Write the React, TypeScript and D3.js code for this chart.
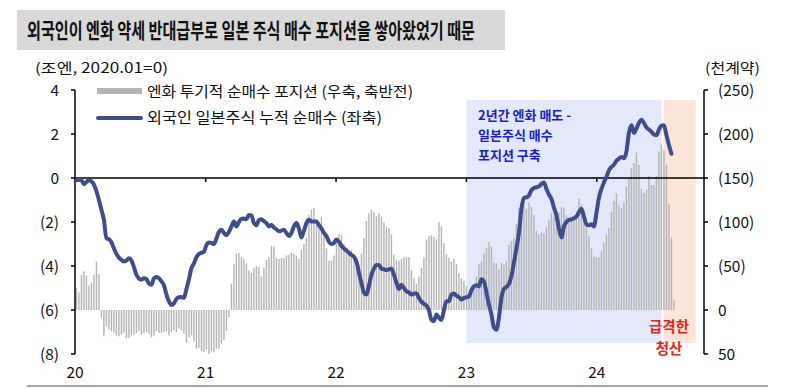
import * as d3 from "d3";

const TITLE = "외국인이 엔화 약세 반대급부로 일본 주식 매수 포지션을 쌓아왔었기 때문";
const LEFT_UNIT = "(조엔, 2020.01=0)";
const RIGHT_UNIT = "(천계약)";
const LEGEND_BAR = "엔화 투기적 순매수 포지션 (우축, 축반전)";
const LEGEND_LINE = "외국인 일본주식 누적 순매수 (좌축)";
const NOTE_BLUE = ["2년간 엔화 매도 -", "일본주식 매수", "포지션 구축"];
const NOTE_RED = ["급격한", "청산"];

const YEARS = ["2020-01-01", "2021-01-01", "2022-01-01", "2023-01-01", "2024-01-01"];
const YEAR_LABELS = ["20", "21", "22", "23", "24"];
const LEFT_TICKS = [4, 2, 0, -2, -4, -6, -8];
const RIGHT_TICKS = [-250, -200, -150, -100, -50, 0, 50];

const BUILD_PERIOD = ["2023-01-01", "2024-07-01"];
const UNWIND_PERIOD = ["2024-07-06", "2024-10-04"];

const FIRST_WEEK = "2020-01-05";

// 엔화 투기적 순매수 (천계약, 주간)
const YEN_POSITION = [
  -25, -20, -40, -44, -39, -28, -31, -40, -55, -41,
  9, 30, 19, 22, 24, 26, 29, 30, 28, 26,
  32, 32, 29, 28, 26, 24, 28, 26, 25, 27,
  31, 29, 24, 26, 26, 25, 24, 29, 25, 23,
  25, 21, 23, 27, 37, 31, 29, 36, 44, 43,
  47, 48, 45, 50, 47, 48, 44, 44, 38, 34,
  24, 8, -30, -52, -64,
  -65, -60, -58, -53, -45, -42, -48, -50, -49, -38,
  -48, -57, -60, -73, -72, -59, -58, -59, -59, -62,
  -63, -65, -64, -62, -58, -68, -75, -82, -108, -114,
  -116, -103, -99, -106, -87, -70, -56, -56, -62, -76,
  -86, -85, -75, -70, -67, -68, -62, -58, -52, -64,
  -82, -101, -110, -114, -111, -107, -110, -106, -100, -95,
  -93, -86, -63, -57, -56, -58, -60,
  -60, -60, -45, -36, -30, -38, -48, -60, -80, -84,
  -85, -83, -80, -100, -95, -76, -63, -59, -55, -58,
  -52, -42, -36, -33, -27, -19, -23, -27, -38, -52,
  -55, -64, -71, -77, -72, -54, -53, -46, -54, -52,
  -55, -74, -78, -82, -98, -116, -122, -124, -115, -122,
  -117, -108, -90, -86, -88, -87, -94, -102,
  -110, -106, -105, -111, -117, -116, -108, -102, -105, -102,
  -106, -127, -120, -102, -96, -84, -70, -61, -60, -60,
  -67, -76, -86, -93, -112, -124, -133, -119, -116, -122,
  -140, -150, -161, -167, -179, -165, -138, -133, -137, -152,
  -142, -142, -152, -180, -188, -182, -165, -120, -82, -12,
];

// 외국인 일본주식 누적 순매수 (조엔, 주간)
const FOREIGN_NET_BUY = [
  -0.1, -0.08, -0.1, -0.28, -0.18, -0.1, -0.15, -0.3, -0.6, -1.0,
  -1.45, -1.9, -2.75, -2.78, -2.92, -3.2, -3.45, -3.62, -3.72, -3.8,
  -3.75, -3.65, -3.75, -4.05, -4.4, -4.57, -4.62, -4.56, -4.6, -4.8,
  -4.85, -4.56, -4.5, -4.56, -4.7, -4.87, -5.3, -5.6, -5.77, -5.7,
  -5.5, -5.42, -5.41, -5.45, -5.05, -4.6, -4.1, -3.88, -3.6, -3.45,
  -3.4, -3.35, -3.05, -2.93, -2.95, -3.0, -2.75, -2.45, -2.35, -2.5,
  -2.6, -2.45, -2.2, -1.98, -2.2, -2.0, -1.85, -1.84, -1.88, -1.68,
  -1.7, -2.05, -2.15, -1.9, -1.88, -1.96, -2.05, -2.2, -2.14, -2.25,
  -2.33, -2.42, -2.39, -2.35, -2.5, -2.64, -2.5, -2.2, -2.05, -2.3,
  -2.7, -2.4, -2.05, -1.9, -1.98, -1.98, -1.98, -2.15, -2.29, -2.5,
  -2.64, -2.9, -3.0, -2.95, -2.8, -2.9, -3.08, -3.2, -3.3, -3.4,
  -3.5, -3.58, -3.8, -4.3, -4.78, -5.2, -5.3, -4.9, -4.4, -4.12,
  -3.95, -3.95, -4.12, -4.15, -4.18, -4.15, -4.12, -4.4, -4.75, -5.05,
  -4.85, -5.0, -5.15, -5.2, -5.3, -5.25, -5.25, -5.45, -5.62, -5.72,
  -5.8, -6.0, -6.45, -6.5, -6.2, -6.35, -6.45, -6.0, -5.6, -5.6,
  -5.3, -5.25, -5.35, -5.42, -5.52, -5.45, -5.42, -5.39, -5.1, -4.92,
  -4.87, -4.93, -4.6, -4.7, -5.2, -5.75, -6.2, -6.8, -6.9, -6.35,
  -5.45, -5.05, -4.95, -4.82, -4.45, -3.85, -3.2, -2.5, -1.4, -0.9,
  -0.88, -0.8, -0.55, -0.45, -0.42, -0.38, -0.27, -0.2, -0.5, -0.75,
  -0.95, -1.35, -1.7, -2.3, -2.7, -2.2, -2.0, -1.9, -1.88, -1.83,
  -1.75, -1.55, -1.4, -1.75, -2.1, -2.15, -2.1, -2.2, -1.6, -0.9,
  -0.5, -0.2, 0.05, 0.35, 0.5, 0.6, 0.78, 0.88, 0.96, 0.9,
  1.2, 2.05, 2.4, 2.05, 2.25, 2.5, 2.65, 2.5, 2.3, 2.2,
  2.1, 1.98, 1.95, 2.2, 2.38, 2.4, 1.95, 1.5, 1.1,
];

const W = 794;
const H = 389;
const PLOT = { left: 75, right: 705, top: 90, bottom: 354 };
const FONT = "'Noto Sans CJK KR', 'Noto Sans', sans-serif";
const LINE_COLOR = "#3f4d8b";
const BAR_COLOR = "#b4b4b4";

const parse = d3.timeParse("%Y-%m-%d");

function fmtParen(v: number) {
  return v < 0 ? `(${Math.abs(v)})` : `${v}`;
}

export default function App() {
  const start = parse(FIRST_WEEK)!;
  const weekDate = (i: number) => d3.timeWeek.offset(start, i);

  // 130.5px per year; right axis sits before the end of 2024
  const x = d3
    .scaleTime()
    .domain([parse("2020-01-01")!, parse("2025-01-01")!])
    .range([PLOT.left, PLOT.left + 130.5 * 5]);

  const yL = d3.scaleLinear().domain([-8, 4]).range([PLOT.bottom, PLOT.top]);
  const yR = d3.scaleLinear().domain([50, -250]).range([PLOT.bottom, PLOT.top]);

  const line = d3
    .line<number>()
    .x((_, i) => x(weekDate(i)))
    .y((d) => yL(d))
    .curve(d3.curveMonotoneX);

  const boxTop = yL(3.55);
  const boxBottom = yL(-7.5);
  const b0 = x(parse(BUILD_PERIOD[0])!);
  const b1 = x(parse(BUILD_PERIOD[1])!);
  const u0 = x(parse(UNWIND_PERIOD[0])!);
  const u1 = x(parse(UNWIND_PERIOD[1])!);

  const tickText = { fontFamily: FONT, fontSize: 15.5, fill: "#111" };

  return (
    <div style={{ position: "absolute", left: 0, top: 0, width: W, height: H, background: "#fff" }}>
      <svg width={W} height={H} style={{ display: "block" }}>
        {/* title */}
        <rect x={17} y={10} width={488} height={40} fill="#d9d9d9" />
        <text
          x={27}
          y={38}
          fontFamily={FONT}
          fontSize={21}
          fontWeight={700}
          fill="#111"
          textLength={448}
          lengthAdjust="spacingAndGlyphs"
        >
          {TITLE}
        </text>

        {/* units */}
        <text x={35} y={73} fontFamily={FONT} fontSize={14} fill="#111" textLength={133} lengthAdjust="spacingAndGlyphs">
          {LEFT_UNIT}
        </text>
        <text x={705} y={73} fontFamily={FONT} fontSize={14} fill="#111" textLength={55} lengthAdjust="spacingAndGlyphs">
          {RIGHT_UNIT}
        </text>

        {/* shaded periods */}
        <rect x={b0} y={boxTop} width={b1 - b0} height={boxBottom - boxTop} fill="#e3e8fb" />
        <rect x={u0} y={boxTop} width={u1 - u0} height={boxBottom - boxTop} fill="#fbe4d8" />

        {/* bars */}
        <g>
          {YEN_POSITION.map((v, i) => {
            const cx = x(weekDate(i));
            const y0 = yR(0);
            const y1 = yR(v);
            return (
              <rect
                key={i}
                x={cx - 0.7}
                y={Math.min(y0, y1)}
                width={1.4}
                height={Math.abs(y1 - y0)}
                fill={BAR_COLOR}
              />
            );
          })}
        </g>

        {/* zero line + year ticks */}
        <line x1={PLOT.left} x2={PLOT.right} y1={yL(0)} y2={yL(0)} stroke="#000" strokeWidth={1.5} />
        {YEARS.map((d, i) => {
          const xx = x(parse(d)!);
          return (
            <g key={d}>
              <line x1={xx} x2={xx} y1={yL(0)} y2={yL(0) + 4} stroke="#000" strokeWidth={1.5} />
              <text x={xx} y={378} textAnchor="middle" {...tickText}>{YEAR_LABELS[i]}</text>
            </g>
          );
        })}

        {/* left axis */}
        <line x1={PLOT.left} x2={PLOT.left} y1={PLOT.top} y2={PLOT.bottom} stroke="#000" strokeWidth={1.5} />
        {LEFT_TICKS.map((t) => (
          <g key={t}>
            <line x1={PLOT.left - 4} x2={PLOT.left} y1={yL(t)} y2={yL(t)} stroke="#000" strokeWidth={1.5} />
            <text x={59} y={yL(t) + 5.5} textAnchor="end" {...tickText}>{fmtParen(t)}</text>
          </g>
        ))}

        {/* right axis */}
        <line x1={PLOT.right - 1} x2={PLOT.right - 1} y1={PLOT.top} y2={PLOT.bottom} stroke="#000" strokeWidth={1.5} />
        {RIGHT_TICKS.map((t) => (
          <g key={t}>
            <line x1={PLOT.right - 1} x2={PLOT.right + 3} y1={yR(t)} y2={yR(t)} stroke="#000" strokeWidth={1.5} />
            <text x={718} y={yR(t) + 5.5} {...tickText}>{fmtParen(t)}</text>
          </g>
        ))}

        {/* line */}
        <path
          d={line(FOREIGN_NET_BUY) ?? ""}
          fill="none"
          stroke={LINE_COLOR}
          strokeWidth={4}
          strokeLinejoin="round"
          strokeLinecap="round"
        />

        {/* legend */}
        <rect x={97} y={88} width={45} height={6} fill={BAR_COLOR} />
        <text x={147} y={97} fontFamily={FONT} fontSize={15} fill="#111" textLength={266} lengthAdjust="spacingAndGlyphs">
          {LEGEND_BAR}
        </text>
        <line x1={98} x2={141} y1={118} y2={118} stroke={LINE_COLOR} strokeWidth={4} strokeLinecap="round" />
        <text x={147} y={123} fontFamily={FONT} fontSize={15} fill="#111" textLength={235} lengthAdjust="spacingAndGlyphs">
          {LEGEND_LINE}
        </text>

        {/* annotations */}
        {NOTE_BLUE.map((s, i) => (
          <text key={s} x={478} y={120 + i * 20} fontFamily={FONT} fontSize={13} fontWeight={700} fill="#1c1cc8">
            {s}
          </text>
        ))}
        {NOTE_RED.map((s, i) => (
          <text key={s} x={669} y={332 + i * 22} textAnchor="middle" fontFamily={FONT} fontSize={14.5} fontWeight={700} fill="#e8221b">
            {s}
          </text>
        ))}

        {/* bottom rule */}
        <line x1={27} x2={768} y1={386} y2={386} stroke="#a6a6a6" strokeWidth={2} />
      </svg>
    </div>
  );
}
